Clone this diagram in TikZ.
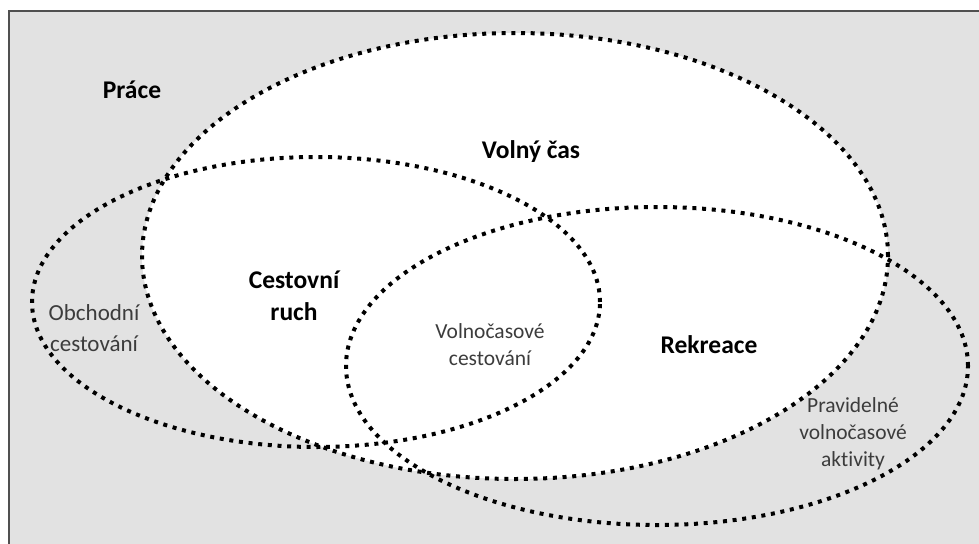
\documentclass[tikz,border=0pt]{standalone}
\usepackage{fontspec}
\setmainfont{Carlito}[Ligatures=NoCommon]
\usepackage{xcolor}
\definecolor{bggray}{RGB}{226,226,226}
\definecolor{framegray}{RGB}{80,80,80}
\definecolor{txtgray}{RGB}{60,60,60}
\tikzset{
  dotline/.style={line width=4pt, dash pattern=on 4pt off 5.7pt, black},
  boldlabel/.style={font=\fontsize{25.5}{32}\selectfont\bfseries, align=center},
  thinlabel/.style={font=\fontsize{21.5}{27}\selectfont, text=txtgray, align=center}
}

\begin{document}
\begin{tikzpicture}[x=1pt,y=-1pt]

  \def\vrx{373} 
  \def\vry{223}
  \def\crx{284}
  \def\cry{145}
  \def\rrx{311}
  \def\rry{159}

  \coordinate (V) at (515,256);
  \coordinate (C) at (316,302);
  \coordinate (R) at (657,366);

  \useasboundingbox (0,0) rectangle (979,543);
  \draw[line width=2pt, draw=framegray, fill=bggray] (9,11) rectangle (990,555);

  \fill[white] (V) ellipse [x radius=\vrx pt, y radius=\vry pt];

  \draw[dotline] (V) ellipse [x radius=\vrx pt, y radius=\vry pt];
  \draw[dotline] (C) ellipse [x radius=\crx pt, y radius=\cry pt];
  \draw[dotline] (R) ellipse [x radius=\rrx pt, y radius=\rry pt];

  \node[boldlabel] (prace) at (132,90) {Práce};
  \node[boldlabel] (volny) at (531,152) {Volný čas};
  \node[boldlabel] (cestruch) at (294,296) {Cestovní\\ruch};
  \node[boldlabel] (rekreace) at (709,345) {Rekreace};

  \node[thinlabel, font=\fontsize{23}{31}\selectfont] (obchodni) at (94,328) {Obchodní\\cestování};
  \node[thinlabel] (volnocest) at (490,345) {Volnočasové\\cestování};
  \node[thinlabel] (pravidelne) at (853,434) {Pravidelné\\volnočasové\\aktivity};

\end{tikzpicture}
\end{document}
